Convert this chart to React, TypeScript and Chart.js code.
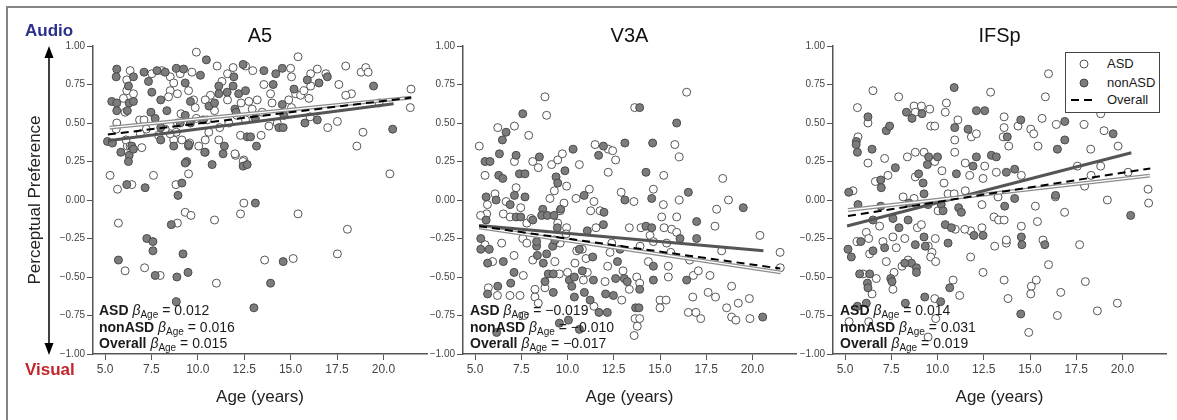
import React, { useEffect, useRef } from 'react';
import { Chart, registerables } from 'chart.js';

Chart.register(...registerables);

const FONT = '"Liberation Sans", Arial, Helvetica, sans-serif';

// ---------- axis ticks ----------
const xTicks = [5, 7.5, 10, 12.5, 15, 17.5, 20];
const yTicks = [-1, -0.75, -0.5, -0.25, 0, 0.25, 0.5, 0.75, 1];
const X_MIN = 4.35;
const X_MAX = 22.35;

// ---------- panel titles & betas ----------
const panelTitles = ['A5', 'V3A', 'IFSp'];
const betaASD = ['0.012', '\u22120.019', '0.014'];
const betaNonASD = ['0.016', '\u22120.010', '0.031'];
const betaOverall = ['0.015', '\u22120.017', '0.019'];

// ---------- A5 ----------
const a5Asd = [
  [9.92,0.96],[15.4,0.93],[11.04,0.87],[15.0,0.855],[17.97,0.87],[18.8,0.83],[19.05,0.86],[19.18,0.83],[21.49,0.72],[21.45,0.6],[18.9,0.44],[18.57,0.35],[17.52,0.51],[17.0,0.47],[17.6,0.75],[18.28,0.69],[17.97,0.68],[19.77,0.63],
  [6.35,0.84],[6.17,0.78],[6.17,0.71],[6.53,0.69],[5.99,0.66],[6.08,0.57],[5.63,0.5],[5.6,0.46],[6.2,0.35],[6.98,0.34],[6.13,0.39],[6.86,0.52],
  [7.52,0.82],[8.06,0.84],[8.51,0.8],[8.51,0.71],[8.42,0.67],[8.7,0.76],[8.9,0.69],[9.05,0.82],[9.5,0.71],[9.68,0.83],[9.77,0.65],[9.86,0.6],[9.09,0.56],[8.9,0.5],[8.84,0.44],[8.7,0.39],[9.14,0.39],[8.51,0.43],[7.1,0.52],[7.22,0.46],[7.88,0.42],[8.24,0.46],[6.9,0.43],[9.92,0.53],[9.56,0.37],
  [11.9,0.86],[12.57,0.87],[12.96,0.84],[11.6,0.82],[11.3,0.77],[10.68,0.68],[10.4,0.65],[10.9,0.58],[11.6,0.65],[12.33,0.63],[12.75,0.64],[12.93,0.59],[12.1,0.55],[12.57,0.52],[11.67,0.5],[10.5,0.52],[11.18,0.47],[10.59,0.44],[10.4,0.39],[11.13,0.39],[12.3,0.42],[13.41,0.42],[10.4,0.31],[12.03,0.29],[12.48,0.26],
  [13.56,0.75],[13.92,0.69],[14.0,0.63],[13.2,0.65],[13.47,0.57],[13.83,0.48],[14.28,0.5],[14.9,0.65],[15.05,0.8],[15.27,0.69],[15.54,0.68],[15.72,0.71],[16.08,0.74],[16.08,0.82],[16.44,0.85],[16.9,0.82],[15.99,0.66],[15.05,0.6],[16.05,0.54],
  [5.27,0.16],[5.67,0.07],[6.44,0.1],[7.61,0.16],[9.5,0.17],[8.82,0.1],[12.0,0.3],[12.44,0.25],[20.35,0.17],[10.05,0.35],[6.35,0.35],
  [5.72,-0.15],[12.48,-0.02],[9.32,-0.08],[8.9,-0.15],[9.63,-0.1],[10.9,-0.13],[12.3,-0.09],[15.4,-0.09],[18.06,-0.19],[6.08,-0.46],[7.13,-0.44],[7.97,-0.49],[11.0,-0.54],[13.6,-0.39],[15.14,-0.38],[17.52,-0.35],
];
const a5NonAsd = [
  [10.46,0.91],[12.44,0.88],[13.56,0.84],[14.2,0.82],[14.55,0.855],[19.47,0.74],[20.5,0.46],
  [5.63,0.85],[5.6,0.8],[6.53,0.8],[6.26,0.74],[5.36,0.64],[5.63,0.63],[5.63,0.58],[6.3,0.63],[6.53,0.64],[6.2,0.58],[5.13,0.38],[5.4,0.37],[5.85,0.31],[6.3,0.29],[6.44,0.35],[6.53,0.33],
  [7.1,0.83],[7.34,0.77],[7.52,0.7],[7.8,0.84],[8.24,0.83],[8.0,0.65],[8.33,0.58],[7.47,0.57],[7.7,0.53],[8.0,0.47],[8.0,0.39],[8.7,0.35],[8.84,0.855],[9.23,0.85],[9.32,0.76],[9.6,0.64],[9.32,0.55],[9.05,0.5],[9.6,0.5],[10.14,0.81],[10.6,0.61],[10.3,0.52],[9.5,0.35],[9.4,0.25],
  [11.13,0.74],[11.13,0.69],[11.58,0.7],[11.9,0.74],[11.94,0.8],[12.2,0.69],[12.57,0.71],[10.9,0.63],[12.0,0.59],[12.06,0.57],[13.1,0.53],[11.43,0.35],[12.66,0.41],[12.84,0.41],[13.16,0.35],[10.77,0.23],[12.44,0.22],
  [14.06,0.75],[14.55,0.62],[14.64,0.55],[14.37,0.47],[14.6,0.47],[15.18,0.72],[15.9,0.78],[15.77,0.5],[16.44,0.52],[16.53,0.76],[16.98,0.8],
  [6.17,0.1],[7.16,0.08],[9.14,0.11],[8.93,0.03],[9.32,0.24],[11.36,0.3],[12.66,0.23],[6.26,0.25],[10.37,0.31],[9.5,0.36],
  [13.1,-0.02],[8.57,-0.16],[5.72,-0.39],[7.25,-0.25],[7.58,-0.27],[7.58,-0.33],[7.7,-0.49],[8.87,-0.5],[9.2,-0.35],[9.47,-0.47],[8.84,-0.66],[13.02,-0.7],[14.6,-0.4],[13.92,-0.54],
];
const a5FitAsd = [[5.25,0.47],[21.5,0.665]];
const a5FitNonAsd = [[5.15,0.385],[20.55,0.625]];
const a5FitOverall = [[5.15,0.425],[21.5,0.665]];

// ---------- V3A ----------
const v3aAsd = [
  [5.23,0.35],[5.54,0.16],[6.23,0.47],[7.13,0.48],[7.13,0.25],[7.22,0.08],[8.78,0.67],[8.87,0.55],[7.9,0.42],[8.12,0.25],[8.42,0.21],[9.14,0.23],[9.47,0.26],[9.72,0.3],[9.95,0.09],[9.29,0.06],[10.64,0.23],[11.49,0.36],[12.2,0.18],[12.2,0.33],[12.44,0.32],[12.6,0.26],[12.9,0.05],[13.63,0.6],[14.64,0.07],[15.2,0.16],[15.8,0.36],[16.04,0.28],[16.44,0.7],[18.39,0.14],[6.08,0.04],[11.18,0.07],
  [5.67,-0.03],[5.63,-0.09],[6.68,-0.01],[6.53,-0.09],[6.9,-0.11],[7.47,-0.05],[7.8,-0.15],[8.03,-0.12],[9.05,0.01],[9.6,-0.07],[9.81,-0.02],[10.46,0.01],[11.43,-0.01],[11.25,-0.07],[11.76,-0.07],[9.47,-0.15],[9.95,-0.18],[11.54,-0.18],[13.59,-0.01],[15.18,-0.03],[16.04,0.0],[15.09,-0.11],[15.9,-0.11],[15.22,-0.18],[15.63,-0.19],[13.97,-0.18],[13.34,-0.18],[18.06,-0.06],[18.7,0.0],[17.97,-0.17],[20.4,-0.23],[21.49,-0.34],[6.44,-0.28],[7.58,-0.25],[7.8,-0.28],[10.5,-0.33],[12.39,-0.28],[13.92,-0.3],[15.36,-0.28],[18.33,-0.33],[7.11,-0.36],
  [5.54,-0.29],[5.95,-0.4],[6.21,-0.62],[5.72,-0.57],[6.89,-0.62],[7.43,-0.62],[7.61,-0.49],[8.12,-0.39],[8.24,-0.58],[8.24,-0.63],[8.42,-0.67],[8.78,-0.57],[9.32,-0.4],[9.56,-0.48],[9.6,-0.28],[9.92,-0.22],[10.0,-0.47],[10.4,-0.41],[10.8,-0.32],[11.0,-0.38],[10.86,-0.52],[11.07,-0.47],[11.43,-0.69],[12.3,-0.34],[12.17,-0.43],[12.03,-0.53],[12.93,-0.65],[13.34,-0.58],[13.0,-0.46],[13.74,-0.5],[13.9,-0.54],[13.65,-0.77],[13.9,-0.77],[13.77,-0.82],[13.6,-0.88],[14.37,-0.4],[14.46,-0.23],[14.64,-0.27],[15.45,-0.43],[15.45,-0.5],[15.0,-0.65],[15.33,-0.65],[15.0,-0.7],[15.58,-0.34],[15.9,-0.21],[16.6,-0.39],[16.8,-0.49],[17.07,-0.46],[16.53,-0.73],[16.77,-0.63],[16.94,-0.73],[17.2,-0.77],[17.7,-0.49],[17.6,-0.6],[18.0,-0.63],[18.6,-0.7],[18.87,-0.76],[19.1,-0.78],[19.23,-0.67],[18.87,-0.56],[19.83,-0.64],[19.86,-0.77],[21.5,-0.44],[5.3,-0.1],[7.65,-0.75],
];
const v3aNonAsd = [
  [5.54,0.25],[5.81,0.25],[6.32,0.3],[6.48,0.39],[6.68,0.44],[7.58,0.56],[7.22,0.29],[6.28,0.16],[6.5,0.14],[7.4,0.17],[7.7,0.17],[8.48,0.28],[9.38,0.15],[9.47,0.11],[9.86,0.19],[10.3,0.33],[11.68,0.29],[11.94,0.35],[13.1,0.37],[13.9,0.6],[14.24,0.18],[14.6,0.37],[15.9,0.5],[16.53,0.05],[5.6,0.02],[7.13,0.03],[7.7,0.02],[10.9,0.03],[13.1,0.0],[14.55,0.01],
  [6.14,0.0],[6.9,-0.03],[5.6,-0.13],[7.22,-0.11],[7.47,-0.11],[8.12,-0.13],[8.66,-0.06],[8.6,-0.1],[8.91,-0.1],[9.27,-0.1],[9.63,-0.06],[11.97,-0.08],[11.94,-0.16],[9.45,-0.18],[11.07,-0.2],[14.24,-0.17],[14.55,-0.18],[16.98,-0.14],[19.5,-0.05],[16.08,-0.25],[16.98,-0.25],[5.31,-0.25],[5.31,-0.32],[5.77,-0.32],[8.33,-0.3],[9.2,-0.3],[10.64,-0.32],
  [5.68,-0.41],[6.53,-0.4],[7.11,-0.47],[6.93,-0.54],[6.23,-0.56],[5.68,-0.61],[8.33,-0.27],[8.37,-0.36],[8.87,-0.35],[8.69,-0.41],[8.78,-0.53],[8.96,-0.48],[9.23,-0.48],[9.23,-0.6],[9.32,-0.26],[10.1,-0.52],[10.37,-0.5],[10.23,-0.56],[10.37,-0.63],[10.8,-0.46],[10.91,-0.6],[11.36,-0.37],[11.4,-0.52],[11.22,-0.65],[11.7,-0.73],[12.15,-0.73],[12.06,-0.61],[12.48,-0.62],[12.7,-0.4],[12.6,-0.51],[13.07,-0.51],[13.23,-0.53],[12.84,-0.32],[13.68,-0.7],[13.86,-0.7],[13.9,-0.58],[14.64,-0.43],[14.64,-0.52],[16.44,-0.52],[20.55,-0.76],[9.56,-0.8],[10.05,-0.78],[10.64,-0.84],[6.17,-0.86],
];
const v3aFitAsd = [[5.22,-0.177],[21.52,-0.47]];
const v3aFitNonAsd = [[5.22,-0.165],[20.59,-0.33]];
const v3aFitOverall = [[5.22,-0.17],[21.5,-0.445]];

// ---------- IFSp ----------
const ifspAsd = [
  [5.67,0.6],[5.7,0.41],[6.24,0.5],[6.24,0.24],[6.51,0.71],[7.14,0.27],[7.9,0.67],[8.73,0.61],[9.13,0.61],[8.8,0.57],[9.58,0.59],[9.63,0.48],[9.85,0.48],[10.42,0.57],[10.48,0.63],[11.1,0.52],[10.93,0.39],[10.93,0.31],[11.83,0.41],[12.1,0.43],[12.87,0.7],[13.6,0.54],[13.6,0.47],[13.55,0.41],[13.85,0.35],[14.35,0.48],[15.04,0.46],[15.2,0.43],[15.43,0.35],[15.65,0.53],[16.0,0.82],[15.83,0.67],[16.42,0.49],[17.5,0.61],[17.92,0.49],[18.28,0.33],[18.82,0.56],[19.0,0.45],[18.82,0.22],[19.76,0.35],[17.56,0.22],[18.3,0.16],[20.3,0.18],[12.55,0.22],[11.5,0.24],[8.37,0.28],[8.8,0.31],[9.27,0.31],[8.8,0.15],[9.85,0.25],[10.24,0.19],[10.35,0.11],[11.74,0.16],[12.46,0.14],[13.18,0.18],[14.53,0.16],[6.64,0.12],[7.32,0.16],[8.14,0.02],[5.43,0.06],
  [6.15,-0.21],[6.28,-0.25],[6.87,-0.17],[7.77,-0.31],[7.59,-0.24],[8.73,0.01],[8.91,-0.18],[9.13,-0.16],[8.23,-0.25],[9.88,-0.25],[10.03,-0.07],[10.57,0.04],[10.9,0.04],[11.5,0.06],[11.79,-0.2],[12.4,-0.18],[12.4,-0.03],[13.05,-0.11],[13.3,-0.13],[13.6,-0.13],[13.27,0.02],[13.72,-0.28],[14.53,-0.17],[15.29,-0.04],[15.4,-0.14],[16.37,0.02],[16.87,-0.08],[15.7,-0.26],[17.68,-0.29],[17.95,0.09],[19.18,0.0],[21.38,0.07],[21.41,-0.02],[5.65,-0.27],[11.47,-0.19],[9.5,-0.3],
  [6.33,-0.35],[6.46,-0.61],[6.69,-0.51],[7.23,-0.4],[7.05,-0.27],[7.65,-0.47],[7.59,-0.58],[8.41,-0.39],[8.08,-0.43],[9.7,-0.34],[9.63,-0.37],[9.9,-0.4],[9.85,-0.64],[9.9,-0.77],[9.49,-0.89],[5.22,-0.79],[6.28,-0.79],[10.84,-0.52],[10.96,-0.19],[11.79,-0.37],[11.2,-0.62],[12.46,-0.47],[13.72,-0.26],[13.6,-0.52],[13.81,-0.64],[15.07,-0.56],[15.34,-0.52],[14.93,-0.86],[16.0,-0.42],[16.66,-0.6],[16.48,-0.75],[17.99,-0.53],[18.64,-0.72],[19.72,-0.67],[15.04,-0.61],[5.97,-0.48],[13.09,-0.3],
];
const ifspNonAsd = [
  [5.2,0.05],[5.67,0.31],[5.61,0.38],[5.6,0.36],[6.24,0.54],[6.46,0.33],[7.23,0.45],[7.41,0.48],[6.93,0.13],[6.96,0.08],[7.72,0.21],[8.32,0.57],[8.62,0.53],[9.16,0.56],[8.98,0.17],[9.45,0.23],[9.52,0.28],[10.0,0.28],[9.22,0.11],[9.27,0.04],[10.9,0.73],[10.93,0.47],[11.65,0.46],[12.1,0.58],[12.55,0.58],[11.02,0.17],[11.92,0.22],[12.1,0.28],[12.91,0.29],[13.18,0.28],[13.77,0.41],[14.17,0.2],[13.72,0.18],[14.5,0.52],[16.48,0.33],[16.88,0.39],[16.88,0.51],[19.49,0.43],
  [5.7,-0.03],[6.51,-0.13],[6.93,-0.04],[7.59,-0.12],[7.92,-0.18],[8.41,-0.13],[8.46,-0.02],[9.49,-0.03],[10.2,-0.03],[10.3,-0.07],[10.42,-0.16],[10.75,-0.18],[11.14,-0.05],[11.29,-0.08],[11.97,-0.23],[12.46,-0.23],[13.63,-0.04],[14.17,0.01],[14.53,-0.24],[14.56,-0.29],[15.8,-0.29],[16.38,0.03],[20.44,-0.1],[5.16,-0.32],[5.34,-0.37],[5.85,-0.27],[8.8,-0.29],
  [5.79,-0.48],[6.33,-0.48],[6.21,-0.54],[6.24,-0.57],[5.67,-0.69],[6.15,-0.67],[7.14,-0.31],[7.47,-0.51],[7.54,-0.53],[8.26,-0.67],[8.59,-0.41],[8.23,-0.41],[8.86,-0.44],[8.86,-0.47],[9.27,-0.24],[9.31,-0.63],[9.34,-0.3],[10.17,-0.66],[10.66,-0.57],[10.57,-0.28],[14.5,-0.74],[6.51,-0.33],
];
const ifspFitAsd = [[5.16,-0.065],[21.47,0.158]];
const ifspFitNonAsd = [[5.11,-0.169],[20.48,0.307]];
const ifspFitOverall = [[5.16,-0.104],[21.5,0.205]];

// ---------- layout (page pixels) ----------
const PANEL_GEOM = [
  { left: 50, width: 392, axisX: 93, right: 427, noteX: 99 },
  { left: 427, width: 384, axisX: 463, right: 796, noteX: 470 },
  { left: 796, width: 381, axisX: 833, right: 1166, noteX: 840 },
];
const PANEL_DATA = [
  { asd: a5Asd, non: a5NonAsd, fitAsd: a5FitAsd, fitNon: a5FitNonAsd, fitAll: a5FitOverall },
  { asd: v3aAsd, non: v3aNonAsd, fitAsd: v3aFitAsd, fitNon: v3aFitNonAsd, fitAll: v3aFitOverall },
  { asd: ifspAsd, non: ifspNonAsd, fitAsd: ifspFitAsd, fitNon: ifspFitNonAsd, fitAll: ifspFitOverall },
];

const toXY = (arr: number[][]) => arr.map(([x, y]) => ({ x, y }));
const fmtY = (v: number) => (v < 0 ? '\u2212' + Math.abs(v).toFixed(2) : v.toFixed(2));

function Panel({ idx }: { idx: number }) {
  const ref = useRef<HTMLCanvasElement | null>(null);
  const g = PANEL_GEOM[idx];
  const d = PANEL_DATA[idx];
  useEffect(() => {
    if (!ref.current) return;
    const axisCommon = {
      grid: { drawOnChartArea: false, drawTicks: true, tickLength: 6, color: '#555', lineWidth: 1 },
      border: { display: true, color: '#555', width: 1.5 },
    };
    const chart = new Chart(ref.current, {
      type: 'scatter',
      data: {
        datasets: [
          { label: 'Overall fit', data: toXY(d.fitAll), showLine: true, borderColor: '#000', borderWidth: 2, borderDash: [8, 5], pointRadius: 0, order: 0 },
          { label: 'ASD fit inner', data: toXY(d.fitAsd), showLine: true, borderColor: '#ffffff', borderWidth: 1.3, pointRadius: 0, order: 1 },
          { label: 'ASD fit', data: toXY(d.fitAsd), showLine: true, borderColor: '#8c8c8c', borderWidth: 3.8, pointRadius: 0, order: 2 },
          { label: 'nonASD fit', data: toXY(d.fitNon), showLine: true, borderColor: '#555555', borderWidth: 3, pointRadius: 0, order: 3 },
          { label: 'nonASD', data: toXY(d.non), pointRadius: 4, pointBackgroundColor: '#7c7c7c', pointBorderColor: '#4a4a4a', pointBorderWidth: 1, order: 4 },
          { label: 'ASD', data: toXY(d.asd), pointRadius: 4, pointBackgroundColor: '#ffffff', pointBorderColor: '#555555', pointBorderWidth: 1, order: 5 },
        ],
      },
      options: {
        responsive: false,
        animation: false,
        devicePixelRatio: 1,
        events: [],
        layout: { padding: { left: 0, top: 0, bottom: 0, right: g.left + g.width - g.right } },
        plugins: {
          legend: { display: false },
          tooltip: { enabled: false },
          title: {
            display: true,
            text: panelTitles[idx],
            fullSize: false,
            color: '#111',
            font: { family: FONT, size: 20, weight: 'normal', lineHeight: 1 },
            padding: { top: 26, bottom: 0 },
          },
        },
        scales: {
          x: {
            type: 'linear',
            min: X_MIN,
            max: X_MAX,
            afterBuildTicks: (s: any) => { s.ticks = xTicks.map((v) => ({ value: v })); },
            afterFit: (s: any) => { s.height = 66; },
            ticks: {
              callback: (v: any) => Number(v).toFixed(1),
              font: { family: FONT, size: 12 },
              color: '#444',
              padding: 2,
              maxRotation: 0,
              autoSkip: false,
            },
            ...axisCommon,
            title: {
              display: true,
              text: 'Age (years)',
              color: '#222',
              font: { family: FONT, size: 17 },
              padding: { top: 0, bottom: 12 },
            },
          },
          y: {
            type: 'linear',
            min: -1,
            max: 1,
            afterBuildTicks: (s: any) => { s.ticks = yTicks.map((v) => ({ value: v })); },
            afterFit: (s: any) => { s.width = g.axisX - g.left; },
            ticks: {
              callback: (v: any) => fmtY(Number(v)),
              font: { family: FONT, size: 10 },
              color: '#444',
              padding: 2,
              autoSkip: false,
            },
            ...axisCommon,
          },
        },
      } as any,
    });
    return () => chart.destroy();
  }, []);
  return (
    <canvas
      ref={ref}
      width={g.width}
      height={420}
      style={{ position: 'absolute', left: g.left, top: 0, width: g.width, height: 420 }}
    />
  );
}

function Note({ idx }: { idx: number }) {
  const g = PANEL_GEOM[idx];
  const rows = [
    ['ASD', betaASD[idx]],
    ['nonASD', betaNonASD[idx]],
    ['Overall', betaOverall[idx]],
  ];
  return (
    <div
      style={{
        position: 'absolute',
        left: g.noteX,
        top: 303,
        fontFamily: FONT,
        fontSize: 14,
        lineHeight: '15.5px',
        color: '#1a1a1a',
        whiteSpace: 'nowrap',
      }}
    >
      {rows.map(([name, b]) => (
        <div key={name}>
          <b>{name}</b>{' '}
          <i>{'\u03B2'}</i>
          <span style={{ fontSize: 10, position: 'relative', top: 3 }}>Age</span>
          {' = ' + b}
        </div>
      ))}
    </div>
  );
}

function Legend() {
  return (
    <div
      style={{
        position: 'absolute',
        left: 1065,
        top: 52,
        width: 93,
        height: 59,
        border: '1px solid #444',
        background: '#fff',
        fontFamily: FONT,
        fontSize: 13,
        color: '#1a1a1a',
      }}
    >
      <svg width={40} height={59} style={{ position: 'absolute', left: 0, top: 0 }}>
        <circle cx={18} cy={11} r={4} fill="#fff" stroke="#555" strokeWidth={1} />
        <circle cx={18} cy={30} r={4} fill="#7c7c7c" stroke="#4a4a4a" strokeWidth={1} />
        <line x1={5} y1={47} x2={31} y2={47} stroke="#000" strokeWidth={2} strokeDasharray="8 5" />
      </svg>
      <div style={{ position: 'absolute', left: 41, top: 3 }}>ASD</div>
      <div style={{ position: 'absolute', left: 41, top: 22 }}>nonASD</div>
      <div style={{ position: 'absolute', left: 41, top: 39 }}>Overall</div>
    </div>
  );
}

export default function App() {
  return (
    <div
      style={{
        position: 'absolute',
        left: 0,
        top: 0,
        width: 1177,
        height: 420,
        overflow: 'hidden',
        background: '#fff',
        fontFamily: FONT,
      }}
    >
      <div
        style={{
          position: 'absolute',
          left: 6,
          top: 6,
          width: 1200,
          height: 440,
          borderTop: '2px solid #858585',
          borderLeft: '2px solid #858585',
        }}
      />
      <Panel idx={0} />
      <Panel idx={1} />
      <Panel idx={2} />
      <Note idx={0} />
      <Note idx={1} />
      <Note idx={2} />
      <Legend />
      <div style={{ position: 'absolute', left: 25, top: 21, fontSize: 17, fontWeight: 'bold', color: '#2b2f8e' }}>Audio</div>
      <div style={{ position: 'absolute', left: 25, top: 360, fontSize: 17, fontWeight: 'bold', color: '#c4262e' }}>Visual</div>
      <svg width={20} height={330} style={{ position: 'absolute', left: 39, top: 40 }}>
        <line x1={10} y1={14} x2={10} y2={306} stroke="#000" strokeWidth={1.5} />
        <polygon points="10,6 5.5,18 14.5,18" fill="#000" />
        <polygon points="10,315 5.5,303 14.5,303" fill="#000" />
      </svg>
      <div
        style={{
          position: 'absolute',
          left: 35,
          top: 200,
          transform: 'translate(-50%, -50%) rotate(-90deg)',
          fontSize: 17,
          color: '#222',
          whiteSpace: 'nowrap',
        }}
      >
        Perceptual Preference
      </div>
    </div>
  );
}
